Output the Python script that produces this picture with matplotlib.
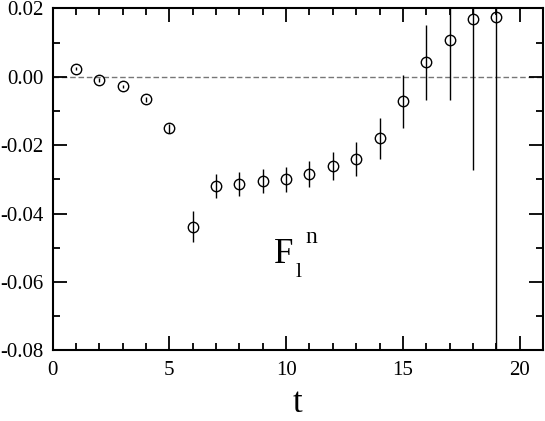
import matplotlib
matplotlib.use("Agg")
import matplotlib.pyplot as plt
from matplotlib.ticker import MultipleLocator

# -----------------------------
# Data
# -----------------------------
t = [1, 2, 3, 4, 5, 6, 7, 8, 9, 10, 11, 12, 13, 14, 15, 16, 17, 18, 19]
F = [0.0024, -0.0010, -0.0028, -0.0066, -0.0150, -0.0438, -0.0320, -0.0314,
     -0.0306, -0.0300, -0.0285, -0.0261, -0.0241, -0.0180, -0.0072, 0.0042,
     0.0109, 0.0168, 0.0175]
err = [0.0005, 0.0005, 0.0005, 0.0007, 0.0013, 0.0044, 0.0035, 0.0035,
       0.0035, 0.0037, 0.0038, 0.0042, 0.0049, 0.0060, 0.0078, 0.0110,
       0.0178, 0.0440, 0.1100]

plt.rcParams["font.family"] = ["Liberation Serif", "DejaVu Serif"]

fig = plt.figure(figsize=(5.45, 4.21), dpi=100)
ax = fig.add_axes([0.0965, 0.168, 0.8998, 0.812])

# zero line
ax.axhline(0.0, color="#777777", linestyle=(0, (4, 2)), linewidth=1.0, zorder=1)

ax.errorbar(t, F, yerr=err, fmt="o", markersize=7.5, markerfacecolor="none",
            markeredgecolor="black", markeredgewidth=1.0, ecolor="black",
            elinewidth=1.0, capsize=0, zorder=3)

# -----------------------------
# Formatting
# -----------------------------
ax.set_xlim(0, 21)
ax.set_ylim(-0.08, 0.02)
ax.xaxis.set_major_locator(MultipleLocator(5))
ax.xaxis.set_minor_locator(MultipleLocator(1))
ax.yaxis.set_major_locator(MultipleLocator(0.02))
ax.yaxis.set_minor_locator(MultipleLocator(0.01))
ax.yaxis.set_major_formatter(plt.FormatStrFormatter("%.2f"))
ax.set_xticks([0, 5, 10, 15, 20])
ax.set_xticklabels(["0", "5", "10", "15", "20"])

ax.tick_params(which="both", direction="in", top=True, right=True,
               labelsize=15, width=1.3)
ax.tick_params(which="major", length=10)
ax.tick_params(which="minor", length=5)
ax.tick_params(axis="x", which="major", pad=8)
ax.tick_params(axis="y", which="major", pad=6.5)
for s in ax.spines.values():
    s.set_linewidth(1.5)

ax.set_xlabel("t", fontsize=25, labelpad=5)

ax.text(9.5, -0.0545, "F", fontsize=25)
ax.text(10.42, -0.0586, "l", fontsize=16)
ax.text(10.83, -0.0487, "n", fontsize=17)

fig.savefig("out.png", dpi=100)
